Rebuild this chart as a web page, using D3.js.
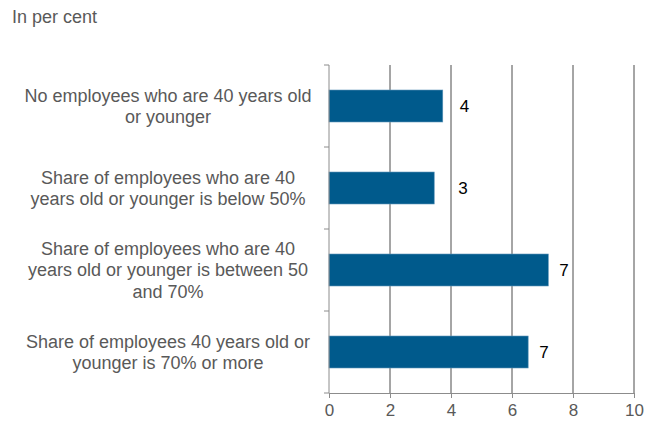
<!DOCTYPE html>
<html>
<head>
<meta charset="utf-8">
<script src="https://cdn.jsdelivr.net/npm/d3@7"></script>
<style>
  body { margin: 0; background: #fff; }
  svg { font-family: "Liberation Sans", Arial, sans-serif; }
</style>
</head>
<body>
<svg id="chart"></svg>
<script>
// categories (line breaks as in the original)
const categories = [
    "No employees who are 40 years old\nor younger",
    "Share of employees who are 40\nyears old or younger is below 50%",
    "Share of employees who are 40\nyears old or younger is between 50\nand 70%",
    "Share of employees 40 years old or\nyounger is 70% or more"
];
const values = [3.73, 3.45, 7.19, 6.53];
const valueLabels = ["4", "3", "7", "7"];
const labelGap = [17, 24, 11, 11]; // label placement as in the original
const xTicks = [0, 2, 4, 6, 8, 10];

const W = 656, H = 421;
const margin = { top: 65, right: 22, bottom: 28, left: 329 };
const width = W - margin.left - margin.right;
const height = H - margin.top - margin.bottom;

const svg = d3.select("#chart").attr("width", W).attr("height", H);

svg.append("text")
    .attr("x", 12).attr("y", 23)
    .attr("fill", "#595959")
    .style("font-size", "18px")
    .text("In per cent");

const g = svg.append("g").attr("transform", `translate(${margin.left},${margin.top})`);

const x = d3.scaleLinear().domain([0, 10]).range([0, width]);
const y = d3.scaleBand().domain(d3.range(categories.length)).range([0, height]).paddingInner(0.61).paddingOuter(0.305);
const band = d3.scaleBand().domain(d3.range(categories.length)).range([0, height]);

// vertical gridlines
g.selectAll(".grid")
    .data(xTicks.filter(d => d > 0))
    .enter().append("line")
    .attr("x1", d => x(d)).attr("x2", d => x(d))
    .attr("y1", 0).attr("y2", height)
    .attr("stroke", "#4d4d4d").attr("stroke-width", 1);

// bars
g.selectAll(".bar")
    .data(values)
    .enter().append("rect")
    .attr("x", 0)
    .attr("y", (d, i) => y(i))
    .attr("width", d => x(d))
    .attr("height", y.bandwidth())
    .attr("fill", "#005a8c")
    .attr("stroke", "#5b93b8").attr("stroke-width", 0.6);

// value labels
g.selectAll(".val")
    .data(values)
    .enter().append("text")
    .attr("x", (d, i) => x(d) + labelGap[i])
    .attr("y", (d, i) => y(i) + y.bandwidth() / 2)
    .attr("dy", "0.36em")
    .style("font-size", "17px")
    .attr("fill", "#000")
    .text((d, i) => valueLabels[i]);

// x axis
const xAxis = g.append("g")
    .attr("transform", `translate(0,${height})`)
    .call(d3.axisBottom(x).tickValues(xTicks).tickSize(5).tickPadding(6));
xAxis.select(".domain").attr("stroke", "#8c8c8c");
xAxis.selectAll(".tick line").attr("stroke", "#8c8c8c");
xAxis.selectAll(".tick text").attr("fill", "#595959").style("font-size", "17px");

// y axis with category separators
const yAxis = g.append("g");
yAxis.append("line")
    .attr("x1", 0).attr("x2", 0).attr("y1", 0).attr("y2", height)
    .attr("stroke", "#8c8c8c");
yAxis.selectAll(".sep")
    .data(d3.range(categories.length + 1))
    .enter().append("line")
    .attr("x1", -5).attr("x2", 0)
    .attr("y1", d => d < categories.length ? band(d) : height)
    .attr("y2", d => d < categories.length ? band(d) : height)
    .attr("stroke", "#8c8c8c");

// category labels
const lineH = 21.5;
const labels = g.selectAll(".cat")
    .data(categories)
    .enter().append("text")
    .attr("text-anchor", "middle")
    .attr("fill", "#595959")
    .style("font-size", "18px")
    .attr("transform", (d, i) => `translate(${-161},${band(i) + band.bandwidth() / 2})`);
labels.each(function(d) {
    const lines = d.split("\n");
    const off = -(lines.length - 1) * lineH / 2;
    d3.select(this).selectAll("tspan")
        .data(lines)
        .enter().append("tspan")
        .attr("x", 0)
        .attr("y", (l, k) => off + k * lineH)
        .attr("dy", "0.36em")
        .text(l => l);
});
</script>
</body>
</html>
